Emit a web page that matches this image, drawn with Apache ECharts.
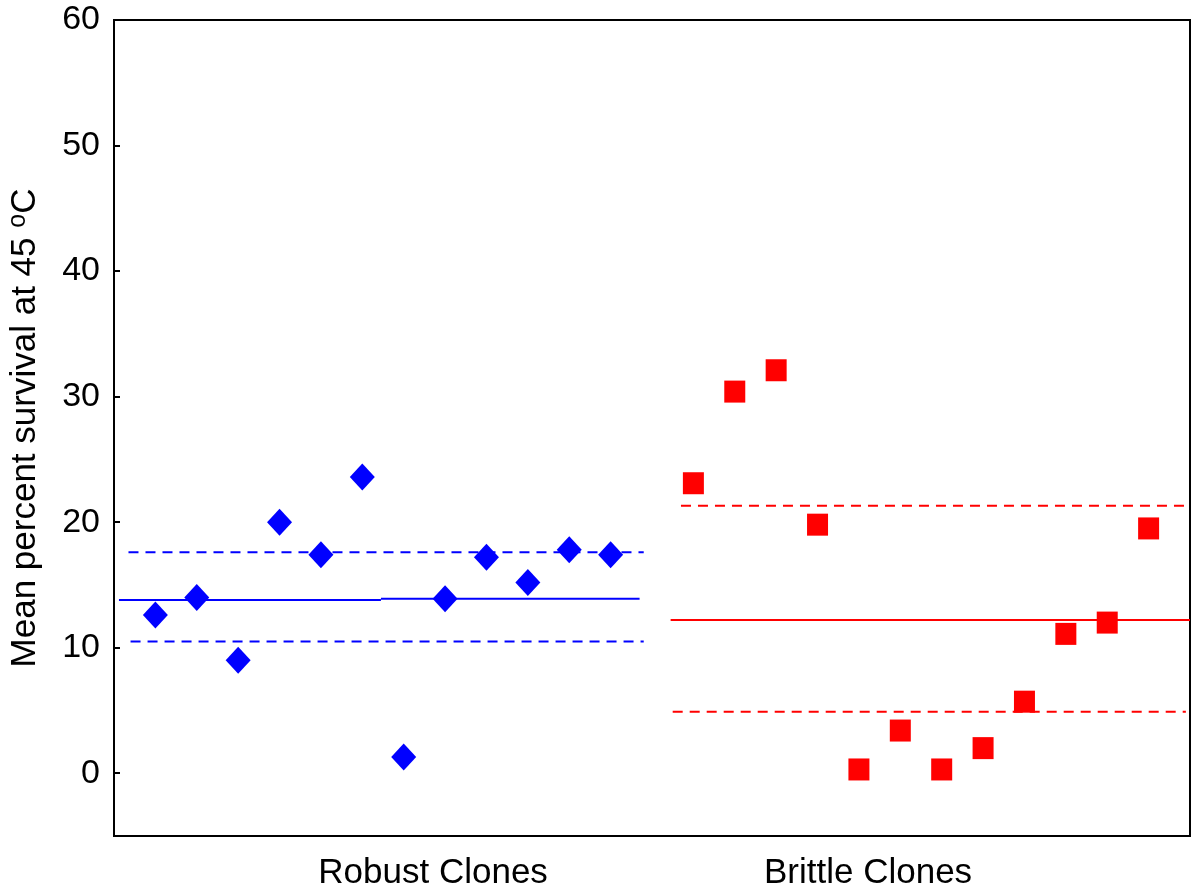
<!DOCTYPE html>
<html>
<head>
<meta charset="utf-8">
<script src="https://cdn.jsdelivr.net/npm/echarts@6/dist/echarts.min.js"></script>
<style>
  html, body { margin: 0; padding: 0; background: #fff; }
  #chart { width: 1200px; height: 892px; }
</style>
</head>
<body>
<div id="chart"></div>
<script>
// clone index along x (position 13 left empty as a gap)
var robustX = [1, 2, 3, 4, 5, 6, 7, 8, 9, 10, 11, 12];
var robustY = [12.6, 14.0, 9.0, 20.0, 17.4, 23.6, 1.3, 13.9, 17.2, 15.2, 17.8, 17.4];
var brittleX = [14, 15, 16, 17, 18, 19, 20, 21, 22, 23, 24, 25];
var brittleY = [23.1, 30.4, 32.1, 19.8, 0.3, 3.4, 0.3, 2.0, 5.7, 11.1, 12.0, 19.5];

// mean and band lines: [xStart, xEnd, y]
var robustMean = [[0.12, 6.45, 13.8], [6.45, 12.7, 13.9]];
var robustUpper = [0.35, 12.8, 17.6];
var robustLower = [0.4, 12.8, 10.5];
var brittleMean = [13.45, 26, 12.2];
var brittleUpper = [13.7, 26, 21.3];
var brittleLower = [13.5, 25.9, 4.9];

var groupLabels = ["Robust Clones", "Brittle Clones"];
var groupLabelPos = [7.71, 18.22];
var yTicks = [0, 10, 20, 30, 40, 50, 60];

function pairs(xs, ys) {
  return xs.map(function (x, i) { return [x, ys[i]]; });
}
function seg(s) {
  return [[s[0], s[2]], [s[1], s[2]]];
}
function lineSeries(s, color, type) {
  return {
    type: "line",
    data: seg(s),
    symbol: "none",
    silent: true,
    lineStyle: { color: color, width: 2, type: type === "dashed" ? [10, 7] : "solid" },
    z: 1
  };
}

var chart = echarts.init(document.getElementById("chart"));
var font = "Liberation Sans, Arial, sans-serif";

chart.setOption({
  animation: false,
  grid: {
    left: 114, right: 10, top: 20, bottom: 56,
    outerBoundsMode: "none",
    containLabel: false,
    show: true, borderColor: "#000", borderWidth: 2
  },
  xAxis: {
    type: "value",
    min: 0, max: 26,
    splitLine: { show: false },
    axisLine: { show: true, onZero: false, lineStyle: { color: "#000", width: 2 } },
    axisTick: { show: false },
    axisLabel: {
      customValues: groupLabelPos,
      margin: 20,
      color: "#000",
      fontFamily: font,
      fontSize: 35,
      formatter: function (v) {
        var i = groupLabelPos.indexOf(v);
        return i >= 0 ? groupLabels[i] : "";
      }
    }
  },
  yAxis: {
    type: "value",
    min: -5, max: 60,
    splitLine: { show: false },
    axisLine: { show: true, onZero: false, lineStyle: { color: "#000", width: 2 } },
    axisTick: { show: true, inside: true, length: 6, customValues: yTicks, lineStyle: { color: "#000", width: 2 } },
    axisLabel: {
      customValues: yTicks,
      margin: 14,
      color: "#000",
      fontFamily: font,
      fontSize: 34
    },
    name: "{a|Mean percent survival at 45 }{s|o}{a|C}",
    nameLocation: "middle",
    nameGap: 70,
    nameRotate: 90,
    nameTextStyle: {
      rich: {
        a: { fontFamily: font, fontSize: 35, color: "#000", lineHeight: 38 },
        s: { fontFamily: font, fontSize: 25, color: "#000", lineHeight: 38, verticalAlign: "top" }
      }
    }
  },
  series: [
    lineSeries(robustMean[0], "#0000ff", "solid"),
    lineSeries(robustMean[1], "#0000ff", "solid"),
    lineSeries(robustUpper, "#0000ff", "dashed"),
    lineSeries(robustLower, "#0000ff", "dashed"),
    lineSeries(brittleMean, "#ff0000", "solid"),
    lineSeries(brittleUpper, "#ff0000", "dashed"),
    lineSeries(brittleLower, "#ff0000", "dashed"),
    {
      name: "Robust Clones",
      type: "scatter",
      data: pairs(robustX, robustY),
      symbol: "diamond",
      symbolSize: [25, 27],
      itemStyle: { color: "#0000ff", opacity: 1 },
      z: 3
    },
    {
      name: "Brittle Clones",
      type: "scatter",
      data: pairs(brittleX, brittleY),
      symbol: "rect",
      symbolSize: [21, 22],
      itemStyle: { color: "#ff0000", opacity: 1 },
      z: 3
    }
  ]
});
</script>
</body>
</html>
